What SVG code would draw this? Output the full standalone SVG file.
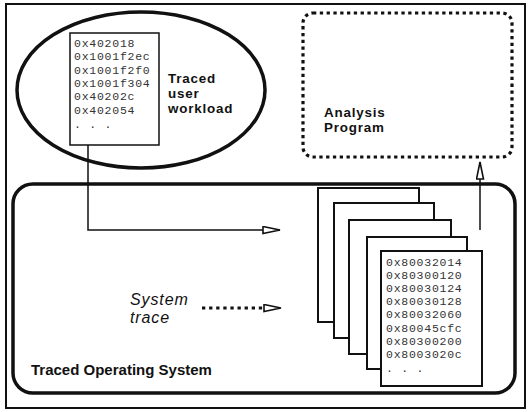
<svg xmlns="http://www.w3.org/2000/svg" width="528" height="412" viewBox="0 0 528 412">
<style>
.mono{font-family:"Liberation Mono","Courier New",monospace;font-size:11.5px;letter-spacing:0.75px;fill:#333}
.lbl{font-family:"Liberation Sans",Arial,sans-serif;font-size:15px;font-weight:bold;fill:#111}
.lbl2{font-family:"Liberation Sans",Arial,sans-serif;font-size:13.4px;letter-spacing:0.8px;font-weight:bold;fill:#111}
.ital{font-family:"Liberation Sans",Arial,sans-serif;font-size:16px;letter-spacing:0.9px;font-style:italic;fill:#111}
.page{fill:#fff;stroke:#111;stroke-width:2}
.conn{fill:none;stroke:#111;stroke-width:1.5}
</style>
<defs>
<marker id="arr" markerUnits="userSpaceOnUse" markerWidth="20" markerHeight="10" refX="18" refY="4" orient="auto">
<path d="M1,0.5 L18,4 L1,7.5 z" fill="#fff" stroke="#111" stroke-width="1.6"/>
</marker>
</defs>
<rect x="6" y="4" width="519" height="404" fill="#fff" stroke="#111" stroke-width="2"/>
<g id="os">
<rect x="13" y="184" width="502" height="209" rx="20" ry="20" fill="none" stroke="#111" stroke-width="3.5"/>
<text class="lbl" x="31" y="375">Traced Operating System</text>
</g>
<g id="workload">
<ellipse cx="141" cy="90" rx="124" ry="78" fill="#fff" stroke="#111" stroke-width="3.5"/>
<rect x="70" y="33" width="89" height="112" fill="#fff" stroke="#111" stroke-width="1.5"/>
<text class="mono" x="74" y="47">0x402018</text>
<text class="mono" x="74" y="60.3">0x1001f2ec</text>
<text class="mono" x="74" y="73.6">0x1001f2f0</text>
<text class="mono" x="74" y="86.9">0x1001f304</text>
<text class="mono" x="74" y="100.2">0x40202c</text>
<text class="mono" x="74" y="113.5">0x402054</text>
<text class="mono" x="74" y="127.5">.  .  .</text>
<text class="lbl2" x="168" y="83">Traced</text>
<text class="lbl2" x="168" y="98">user</text>
<text class="lbl2" x="168" y="113">workload</text>
</g>
<g id="analysis">
<rect x="303" y="13" width="209" height="144" rx="10" ry="10" fill="none" stroke="#111" stroke-width="3.2" stroke-dasharray="3.3 3.5"/>
<text class="lbl2" x="324" y="117">Analysis</text>
<text class="lbl2" x="324" y="132">Program</text>
</g>
<g id="systrace">
<text class="ital" x="130" y="305">System</text>
<text class="ital" x="130" y="323">trace</text>
</g>
<g id="pages">
<rect class="page" x="318" y="188" width="101" height="134"/>
<rect class="page" x="334" y="203" width="100" height="135"/>
<rect class="page" x="349" y="220" width="102" height="134"/>
<rect class="page" x="367" y="237" width="100" height="132"/>
<rect class="page" x="381" y="251" width="101" height="135"/>
<text class="mono" x="386" y="266">0x80032014</text>
<text class="mono" x="386" y="279.1">0x80300120</text>
<text class="mono" x="386" y="292.2">0x80030124</text>
<text class="mono" x="386" y="305.3">0x80030128</text>
<text class="mono" x="386" y="318.4">0x80032060</text>
<text class="mono" x="386" y="331.5">0x80045cfc</text>
<text class="mono" x="386" y="344.6">0x80300200</text>
<text class="mono" x="386" y="357.7">0x8003020c</text>
<text class="mono" x="386" y="371.5">.  .  .</text>
</g>
<g id="connectors">
<path class="conn" d="M88,145 L88,230 L280,230" marker-end="url(#arr)"/>
<path d="M202,308 L264,308" fill="none" stroke="#111" stroke-width="3.2" stroke-dasharray="3.3 3.8"/>
<path d="M264,308 L281,308" fill="none" stroke="none" marker-end="url(#arr)"/>
<path class="conn" d="M480,230 L480,162" marker-end="url(#arr)"/>
</g>
</svg>
